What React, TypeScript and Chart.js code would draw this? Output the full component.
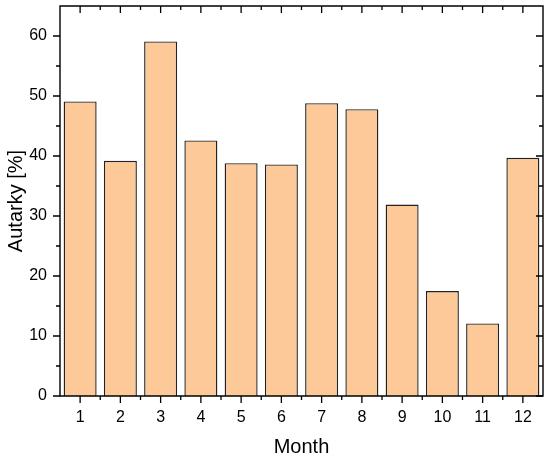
import React, { useEffect, useRef } from "react";
import { Chart, registerables } from "chart.js";

Chart.register(...registerables);

const months = ["1", "2", "3", "4", "5", "6", "7", "8", "9", "10", "11", "12"];
const autarky = [49.1, 39.2, 59.1, 42.6, 38.8, 38.6, 48.8, 47.8, 31.9, 17.5, 12.1, 39.7];
const yMajorTicks = [0, 10, 20, 30, 40, 50, 60];
const yMinorTicks = [5, 15, 25, 35, 45, 55];
const yMin = 0;
const yMax = 65;

const FONT = "Arial, 'Liberation Sans', Helvetica, sans-serif";

const frameTicks = {
  id: "frameTicks",
  afterDatasetsDraw(chart: any) {
    const { ctx, chartArea } = chart;
    const { left, right, top, bottom } = chartArea;
    const xs = chart.scales.x;
    const ys = chart.scales.y;
    ctx.save();
    ctx.strokeStyle = "#000";
    ctx.lineWidth = 1.4;
    ctx.beginPath();
    ctx.rect(left, top, right - left, bottom - top);
    ctx.stroke();

    const MAJ = 7;
    const MIN = 4;
    ctx.lineWidth = 1.3;
    ctx.beginPath();
    const centers = months.map((_, i) => xs.getPixelForValue(i));
    centers.forEach((px: number) => {
      ctx.moveTo(px, bottom);
      ctx.lineTo(px, bottom + MAJ);
      ctx.moveTo(px, top);
      ctx.lineTo(px, top + MAJ);
    });
    const bounds: number[] = [];
    for (let i = 0; i < centers.length - 1; i++) bounds.push((centers[i] + centers[i + 1]) / 2);
    bounds.forEach((px) => {
      ctx.moveTo(px, bottom);
      ctx.lineTo(px, bottom + MIN);
      ctx.moveTo(px, top);
      ctx.lineTo(px, top + MIN);
    });
    yMajorTicks.forEach((v) => {
      const py = ys.getPixelForValue(v);
      ctx.moveTo(left, py);
      ctx.lineTo(left - MAJ, py);
      ctx.moveTo(right, py);
      ctx.lineTo(right - MAJ, py);
    });
    yMinorTicks.forEach((v) => {
      const py = ys.getPixelForValue(v);
      ctx.moveTo(left, py);
      ctx.lineTo(left - MIN, py);
      ctx.moveTo(right, py);
      ctx.lineTo(right - MIN, py);
    });
    ctx.stroke();
    ctx.restore();
  },
};

export default function App() {
  const ref = useRef<HTMLCanvasElement | null>(null);

  useEffect(() => {
    if (!ref.current) return;
    const chart = new Chart(ref.current, {
      type: "bar",
      data: {
        labels: months,
        datasets: [
          {
            data: autarky,
            backgroundColor: "#FDC999",
            borderColor: "#222222",
            borderWidth: 1.4,
            barPercentage: 0.82,
            categoryPercentage: 1,
          },
        ],
      },
      options: {
        animation: false,
        responsive: false,
        devicePixelRatio: 1,
        layout: { padding: { left: 0, top: 6, right: 7, bottom: 0 } },
        plugins: {
          legend: { display: false },
          tooltip: { enabled: false },
        },
        scales: {
          x: {
            type: "category",
            offset: true,
            grid: { display: false, drawTicks: false },
            border: { display: false },
            ticks: {
              color: "#000",
              padding: 12,
              font: { family: FONT, size: 16 },
              maxRotation: 0,
              autoSkip: false,
            },
            title: {
              display: true,
              text: "Month",
              color: "#000",
              font: { family: FONT, size: 20 },
              padding: { top: 0, bottom: 0 },
            },
            afterFit(scale: any) {
              scale.height = 63;
              scale.paddingLeft = 0;
              scale.paddingRight = 0;
            },
          },
          y: {
            min: yMin,
            max: yMax,
            afterBuildTicks(scale: any) {
              scale.ticks = yMajorTicks.map((v) => ({ value: v }));
            },
            grid: { display: false, drawTicks: false },
            border: { display: false },
            ticks: {
              color: "#000",
              padding: 13,
              font: { family: FONT, size: 16 },
            },
            title: {
              display: true,
              text: "Autarky [%]",
              color: "#000",
              font: { family: FONT, size: 20 },
              padding: { top: 4, bottom: 0 },
            },
            afterFit(scale: any) {
              scale.width = 60;
              scale.paddingTop = 0;
              scale.paddingBottom = 0;
            },
          },
        },
      },
      plugins: [frameTicks],
    });
    return () => chart.destroy();
  }, []);

  return (
    <div style={{ position: "fixed", left: 0, top: 0, width: 550, height: 459, background: "#fff" }}>
      <canvas ref={ref} width={550} height={459} style={{ width: 550, height: 459 }} />
    </div>
  );
}
